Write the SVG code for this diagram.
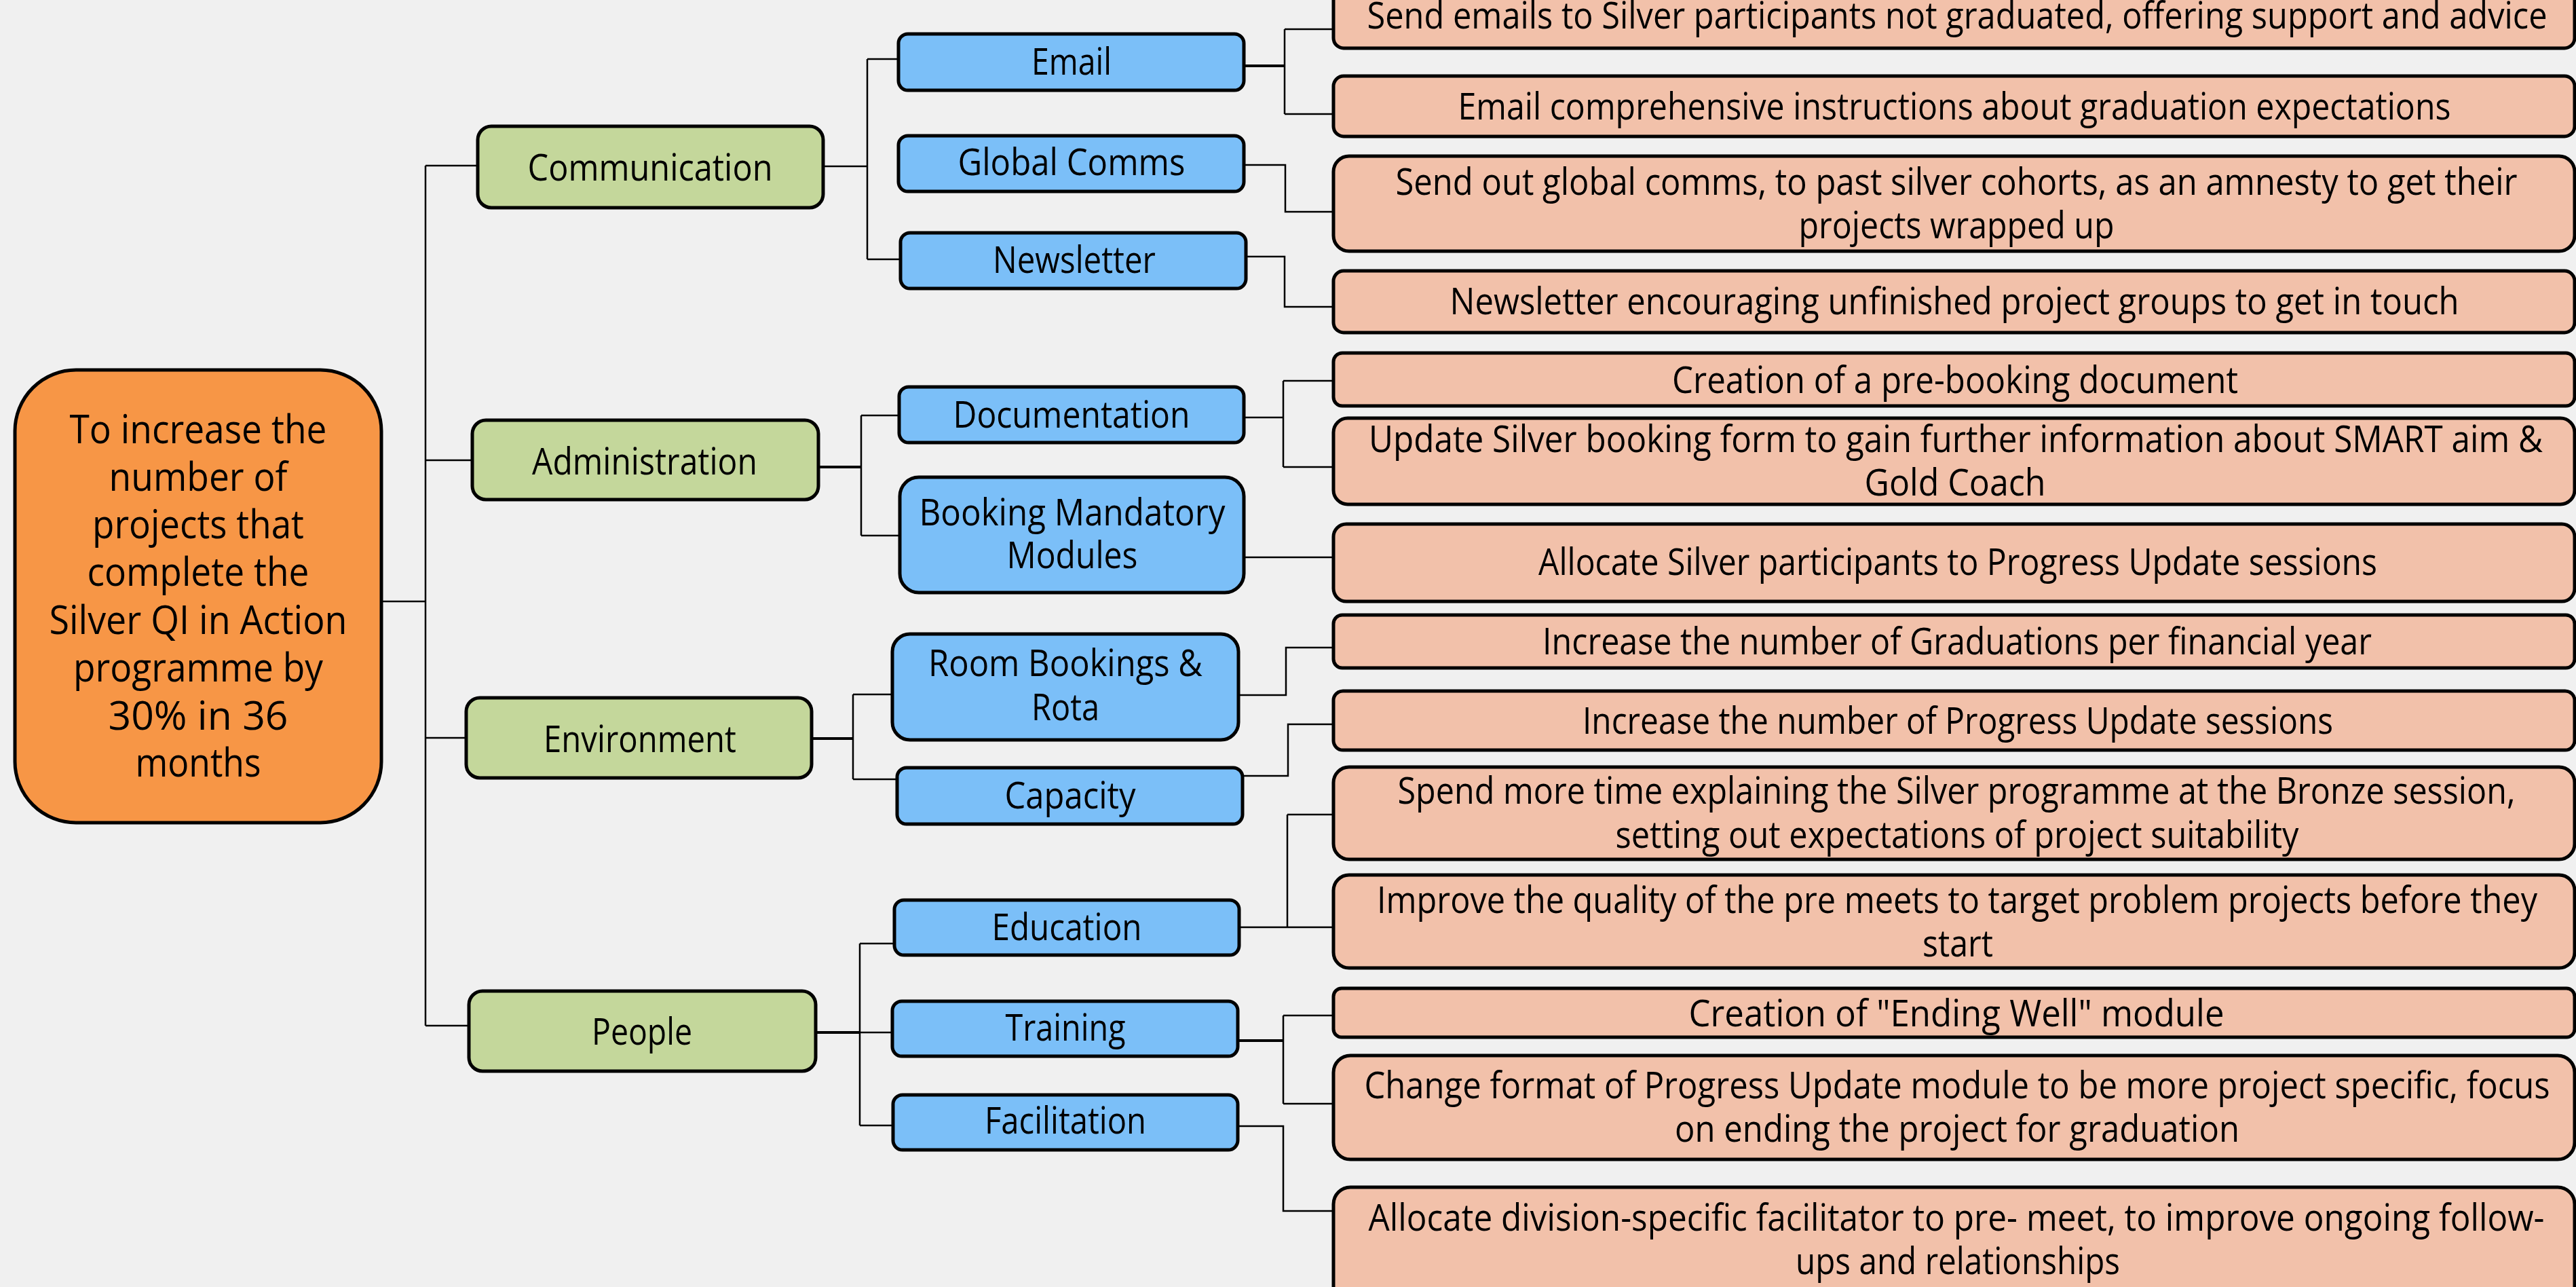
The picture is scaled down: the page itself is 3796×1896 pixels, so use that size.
<svg xmlns="http://www.w3.org/2000/svg" width="3796" height="1896" viewBox="0 0 3796 1896">
<style>
.bg{fill:#F0F0F0}
.box{stroke:#000;stroke-width:5}
.root{fill:#F79646}
.grn{fill:#C4D79B}
.blu{fill:#7BBFF8}
.pnk{fill:#F2C1AA}
.t{font-family:"Open Sans","Noto Sans","Liberation Sans",sans-serif;font-size:54px;fill:#000;text-anchor:middle}
.tr{font-size:58px}
.c{fill:none;stroke:#000;stroke-width:2.5}
.ck{fill:none;stroke:#000;stroke-width:4}
</style>
<rect class="bg" x="0" y="0" width="3796" height="1896"/>

<g id="connectors">
<path class="c" d="M562,886H627M627,244V1511M627,244H704M627,678H696M627,1087H687M627,1511H691"/>
<path class="c" d="M1213,245H1278M1278,87V382M1278,87H1324M1278,382H1327"/>
<path class="ck" d="M1833,97H1893"/>
<path class="c" d="M1893,43V168M1893,43H1965M1893,168H1965"/>
<path class="c" d="M1833,243H1894V312H1965"/>
<path class="c" d="M1836,378H1893V452H1965"/>
<path class="ck" d="M1206,688H1269"/>
<path class="c" d="M1269,612V789M1269,612H1325M1269,789H1326"/>
<path class="c" d="M1833,615H1891M1891,561V688M1891,561H1965M1891,688H1965"/>
<path class="c" d="M1833,821H1965"/>
<path class="ck" d="M1196,1088H1257"/>
<path class="c" d="M1257,1023V1148M1257,1023H1315M1257,1148H1322"/>
<path class="c" d="M1825,1024H1895V954H1965"/>
<path class="c" d="M1831,1143H1898V1067H1965"/>
<path class="ck" d="M1202,1521H1267"/>
<path class="c" d="M1267,1390V1658M1267,1390H1318M1267,1521H1315M1267,1658H1316"/>
<path class="c" d="M1826,1366H1965M1897,1200V1366M1897,1200H1965"/>
<path class="ck" d="M1824,1533H1891"/>
<path class="c" d="M1891,1496V1626M1891,1496H1965M1891,1626H1965"/>
<path class="c" d="M1824,1659H1891V1784H1965"/>
</g>

<g id="root">
<rect class="box root" x="22" y="545" width="540" height="667" rx="90" ry="90"/>
<text class="t tr"><tspan x="292" y="653" textLength="379" lengthAdjust="spacingAndGlyphs">To increase the</tspan><tspan x="292" y="723" textLength="263" lengthAdjust="spacingAndGlyphs">number of</tspan><tspan x="292" y="793" textLength="312" lengthAdjust="spacingAndGlyphs">projects that</tspan><tspan x="292" y="863" textLength="327" lengthAdjust="spacingAndGlyphs">complete the</tspan><tspan x="292" y="934" textLength="439" lengthAdjust="spacingAndGlyphs">Silver QI in Action</tspan><tspan x="292" y="1004" textLength="368" lengthAdjust="spacingAndGlyphs">programme by</tspan><tspan x="292" y="1075" textLength="265" lengthAdjust="spacingAndGlyphs">30% in 36</tspan><tspan x="292" y="1144" textLength="185" lengthAdjust="spacingAndGlyphs">months</tspan></text>
</g>

<g id="communication">
<rect class="box grn" x="704" y="186" width="509" height="120" rx="20"/>
<text class="t" x="958" y="266" textLength="361" lengthAdjust="spacingAndGlyphs">Communication</text>
</g>
<g id="administration">
<rect class="box grn" x="696" y="619" width="510" height="117" rx="20"/>
<text class="t" x="950" y="699" textLength="332" lengthAdjust="spacingAndGlyphs">Administration</text>
</g>
<g id="environment">
<rect class="box grn" x="687" y="1028" width="509" height="118" rx="20"/>
<text class="t" x="943" y="1108" textLength="284" lengthAdjust="spacingAndGlyphs">Environment</text>
</g>
<g id="people">
<rect class="box grn" x="691" y="1460" width="511" height="118" rx="20"/>
<text class="t" x="946" y="1539" textLength="148" lengthAdjust="spacingAndGlyphs">People</text>
</g>

<g id="email">
<rect class="box blu" x="1324" y="50" width="509" height="83" rx="14"/>
<text class="t" x="1579" y="110" textLength="118" lengthAdjust="spacingAndGlyphs">Email</text>
</g>
<g id="global-comms">
<rect class="box blu" x="1324" y="200" width="509" height="82" rx="14"/>
<text class="t" x="1579" y="258" textLength="335" lengthAdjust="spacingAndGlyphs">Global Comms</text>
</g>
<g id="newsletter">
<rect class="box blu" x="1327" y="343" width="509" height="82" rx="14"/>
<text class="t" x="1583" y="402" textLength="240" lengthAdjust="spacingAndGlyphs">Newsletter</text>
</g>
<g id="documentation">
<rect class="box blu" x="1325" y="570" width="508" height="82" rx="14"/>
<text class="t" x="1579" y="630" textLength="349" lengthAdjust="spacingAndGlyphs">Documentation</text>
</g>
<g id="booking-mandatory-modules">
<rect class="box blu" x="1326" y="703" width="507" height="170" rx="28"/>
<text class="t"><tspan x="1580" y="774" textLength="451" lengthAdjust="spacingAndGlyphs">Booking Mandatory</tspan><tspan x="1580" y="837" textLength="193" lengthAdjust="spacingAndGlyphs">Modules</tspan></text>
</g>
<g id="room-bookings-rota">
<rect class="box blu" x="1315" y="934" width="510" height="156" rx="26"/>
<text class="t"><tspan x="1570" y="996" textLength="404" lengthAdjust="spacingAndGlyphs">Room Bookings &amp;</tspan><tspan x="1570" y="1061" textLength="100" lengthAdjust="spacingAndGlyphs">Rota</tspan></text>
</g>
<g id="capacity">
<rect class="box blu" x="1322" y="1131" width="509" height="83" rx="14"/>
<text class="t" x="1577" y="1191" textLength="193" lengthAdjust="spacingAndGlyphs">Capacity</text>
</g>
<g id="education">
<rect class="box blu" x="1318" y="1326" width="508" height="81" rx="14"/>
<text class="t" x="1572" y="1385" textLength="221" lengthAdjust="spacingAndGlyphs">Education</text>
</g>
<g id="training">
<rect class="box blu" x="1315" y="1475" width="509" height="81" rx="14"/>
<text class="t" x="1570" y="1533" textLength="177" lengthAdjust="spacingAndGlyphs">Training</text>
</g>
<g id="facilitation">
<rect class="box blu" x="1316" y="1613" width="508" height="81" rx="14"/>
<text class="t" x="1570" y="1670" textLength="238" lengthAdjust="spacingAndGlyphs">Facilitation</text>
</g>

<g id="p1">
<rect class="box pnk" x="1965" y="-22" width="1829" height="93" rx="15"/>
<text class="t" x="2884" y="42" textLength="1739" lengthAdjust="spacingAndGlyphs">Send emails to Silver participants not graduated, offering support and advice</text>
</g>
<g id="p2">
<rect class="box pnk" x="1965" y="112" width="1829" height="89" rx="15"/>
<text class="t" x="2880" y="176" textLength="1463" lengthAdjust="spacingAndGlyphs">Email comprehensive instructions about graduation expectations</text>
</g>
<g id="p3">
<rect class="box pnk" x="1965" y="230" width="1829" height="140" rx="23"/>
<text class="t"><tspan x="2883" y="287" textLength="1653" lengthAdjust="spacingAndGlyphs">Send out global comms, to past silver cohorts, as an amnesty to get their</tspan><tspan x="2883" y="351" textLength="465" lengthAdjust="spacingAndGlyphs">projects wrapped up</tspan></text>
</g>
<g id="p4">
<rect class="box pnk" x="1965" y="399" width="1829" height="91" rx="15"/>
<text class="t" x="2880" y="463" textLength="1487" lengthAdjust="spacingAndGlyphs">Newsletter encouraging unfinished project groups to get in touch</text>
</g>
<g id="p5">
<rect class="box pnk" x="1965" y="520" width="1829" height="78" rx="13"/>
<text class="t" x="2881" y="579" textLength="834" lengthAdjust="spacingAndGlyphs">Creation of a pre-booking document</text>
</g>
<g id="p6">
<rect class="box pnk" x="1965" y="616" width="1829" height="127" rx="21"/>
<text class="t"><tspan x="2882" y="666" textLength="1730" lengthAdjust="spacingAndGlyphs">Update Silver booking form to gain further information about SMART aim &amp;</tspan><tspan x="2881" y="730" textLength="267" lengthAdjust="spacingAndGlyphs">Gold Coach</tspan></text>
</g>
<g id="p7">
<rect class="box pnk" x="1965" y="772" width="1829" height="114" rx="19"/>
<text class="t" x="2885" y="847" textLength="1236" lengthAdjust="spacingAndGlyphs">Allocate Silver participants to Progress Update sessions</text>
</g>
<g id="p8">
<rect class="box pnk" x="1965" y="906" width="1829" height="78" rx="13"/>
<text class="t" x="2884" y="964" textLength="1222" lengthAdjust="spacingAndGlyphs">Increase the number of Graduations per financial year</text>
</g>
<g id="p9">
<rect class="box pnk" x="1965" y="1018" width="1829" height="87" rx="14"/>
<text class="t" x="2885" y="1081" textLength="1106" lengthAdjust="spacingAndGlyphs">Increase the number of Progress Update sessions</text>
</g>
<g id="p10">
<rect class="box pnk" x="1965" y="1130" width="1829" height="136" rx="23"/>
<text class="t"><tspan x="2883" y="1184" textLength="1647" lengthAdjust="spacingAndGlyphs">Spend more time explaining the Silver programme at the Bronze session,</tspan><tspan x="2884" y="1249" textLength="1007" lengthAdjust="spacingAndGlyphs">setting out expectations of project suitability</tspan></text>
</g>
<g id="p11">
<rect class="box pnk" x="1965" y="1289" width="1829" height="137" rx="23"/>
<text class="t"><tspan x="2884" y="1345" textLength="1710" lengthAdjust="spacingAndGlyphs">Improve the quality of the pre meets to target problem projects before they</tspan><tspan x="2885" y="1409" textLength="104" lengthAdjust="spacingAndGlyphs">start</tspan></text>
</g>
<g id="p12">
<rect class="box pnk" x="1965" y="1456" width="1829" height="72" rx="12"/>
<text class="t" x="2883" y="1512" textLength="789" lengthAdjust="spacingAndGlyphs">Creation of "Ending Well" module</text>
</g>
<g id="p13">
<rect class="box pnk" x="1965" y="1555" width="1829" height="153" rx="25"/>
<text class="t"><tspan x="2884" y="1618" textLength="1747" lengthAdjust="spacingAndGlyphs">Change format of Progress Update module to be more project specific, focus</tspan><tspan x="2884" y="1682" textLength="832" lengthAdjust="spacingAndGlyphs">on ending the project for graduation</tspan></text>
</g>
<g id="p14">
<rect class="box pnk" x="1965" y="1749" width="1829" height="190" rx="25"/>
<text class="t"><tspan x="2883" y="1813" textLength="1733" lengthAdjust="spacingAndGlyphs">Allocate division-specific facilitator to pre- meet, to improve ongoing follow-</tspan><tspan x="2885" y="1877" textLength="478" lengthAdjust="spacingAndGlyphs">ups and relationships</tspan></text>
</g>
</svg>
